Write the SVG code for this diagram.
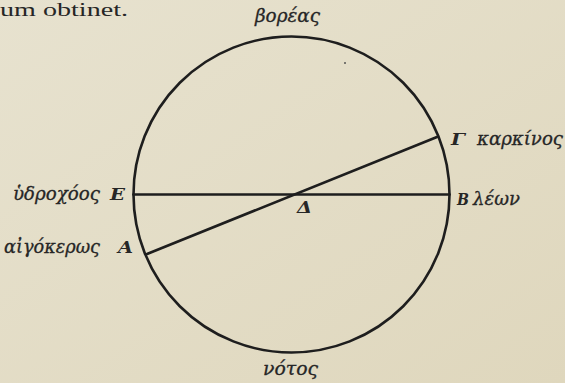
<svg xmlns="http://www.w3.org/2000/svg" width="565" height="383" viewBox="0 0 565 383">
<defs>
<linearGradient id="bg" x1="0" y1="0" x2="1" y2="1">
<stop offset="0" stop-color="#e7e2cf"/>
<stop offset="1" stop-color="#dfd7bd"/>
</linearGradient>
</defs>
<style>
.ln{fill:none;stroke:#1e1e1e;stroke-width:2.6;stroke-linecap:round}
.gk{font-family:"DejaVu Serif","Liberation Serif",serif;font-style:italic;font-size:18px;fill:#262626;stroke:#262626;stroke-width:0.3}
.lt{font-family:"DejaVu Serif","Liberation Serif",serif;font-style:italic;font-weight:bold;font-size:16px;fill:#262626}
.rm{font-family:"Liberation Serif","DejaVu Serif",serif;font-size:19px;fill:#262626}
</style>
<rect width="565" height="383" fill="url(#bg)"/>
<text class="rm" x="0" y="16" textLength="128" lengthAdjust="spacingAndGlyphs">um obtinet.</text>
<g id="circle">
<circle class="ln" cx="291.5" cy="194.5" r="158"/>
<circle cx="345" cy="63" r="1" fill="#555"/>
</g>
<g id="connectors">
<line class="ln" x1="133.5" y1="194.5" x2="449.5" y2="194.5"/>
<line class="ln" x1="147" y1="254" x2="437" y2="137"/>
</g>
<g id="north"><text class="gk" x="255" y="22" textLength="65" lengthAdjust="spacingAndGlyphs">βορέας</text></g>
<g id="south"><text class="gk" x="263" y="375" textLength="55" lengthAdjust="spacingAndGlyphs">νότος</text></g>
<g id="gamma">
<text class="lt" x="451" y="145" textLength="14" lengthAdjust="spacingAndGlyphs">Γ</text>
<text class="gk" x="477" y="145" textLength="86" lengthAdjust="spacingAndGlyphs">καρκίνος</text>
</g>
<g id="beta">
<text class="lt" x="457" y="205" textLength="12" lengthAdjust="spacingAndGlyphs">B</text>
<text class="gk" x="473" y="205" textLength="47" lengthAdjust="spacingAndGlyphs">λέων</text>
</g>
<g id="epsilon">
<text class="gk" x="13" y="200" textLength="87" lengthAdjust="spacingAndGlyphs">ὑδροχόος</text>
<text class="lt" x="110" y="200" textLength="15" lengthAdjust="spacingAndGlyphs">E</text>
</g>
<g id="alpha">
<text class="gk" x="4" y="253" textLength="96" lengthAdjust="spacingAndGlyphs">αἰγόκερως</text>
<text class="lt" x="118" y="253" textLength="15" lengthAdjust="spacingAndGlyphs">A</text>
</g>
<g id="delta"><text class="lt" x="297" y="213" textLength="15" lengthAdjust="spacingAndGlyphs">Δ</text></g>
</svg>
